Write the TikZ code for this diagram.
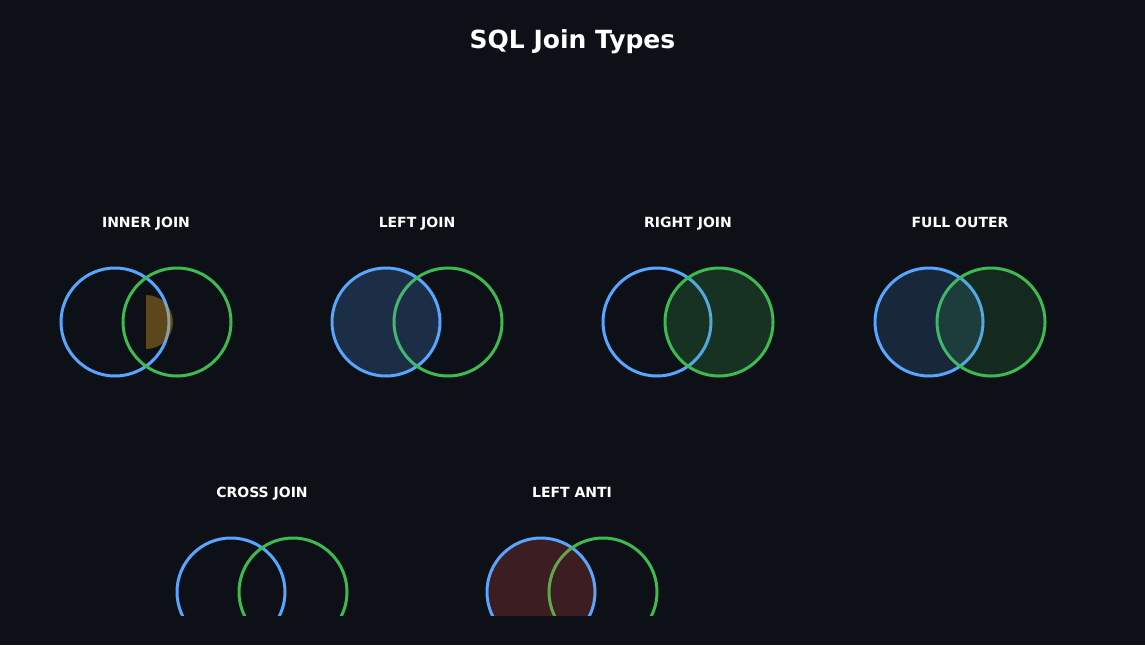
\documentclass[tikz,border=0pt]{standalone}
\usepackage{fontspec}
\setmainfont{DejaVu Sans}
\usepackage{tikz}
\usetikzlibrary{positioning}

\definecolor{bgdark}{HTML}{0D1117}
\definecolor{tblA}{HTML}{58A6FF}
\definecolor{tblB}{HTML}{3FB950}
\definecolor{hitOrange}{HTML}{D29922}
\definecolor{antiRed}{HTML}{F85149}

\begin{document}
\begin{tikzpicture}[x=1pt, y=-1pt,
		setA/.style={draw=tblA, line width=3pt, circle, minimum size=108pt, inner sep=0pt},
		setB/.style={draw=tblB, line width=3pt, circle, minimum size=108pt, inner sep=0pt},
		joinname/.style={text=white, anchor=base, font=\fontsize{14}{16}\selectfont\bfseries},
		heading/.style={text=white, anchor=base, font=\fontsize{25}{30}\selectfont\bfseries}]
				\fill[bgdark] (0,0) rectangle (1145,645);
				\useasboundingbox (0,0) rectangle (1145,645);
				
				\node[heading] (title) at (572.5,48.5) {SQL Join Types};
				
				% top row
				\node[joinname] (innerlbl) at (146,227.5) {INNER JOIN};
				\node[setA] (innerA) at (115,322) {};
				\node[setB] (innerB) at (177,322) {};
				\begin{scope}
					\clip (146,290) rectangle (180,355);
					\fill[hitOrange, opacity=.4] (146,322) circle[radius=27];
				\end{scope}
				
				\node[joinname] (leftlbl) at (417,227.5) {LEFT JOIN};
				\node[setA] (leftA) at (386,322) {};
				\node[setB] (leftB) at (448,322) {};
				\fill[tblA, opacity=.2] (leftA.center) circle[radius=52.5];
				
				\node[joinname] (rightlbl) at (688,227.5) {RIGHT JOIN};
				\node[setA] (rightA) at (657,322) {};
				\node[setB] (rightB) at (719,322) {};
				\fill[tblB, opacity=.2] (rightB.center) circle[radius=52.5];
				
				\node[joinname] (fulllbl) at (960,227.5) {FULL OUTER};
				\node[setA] (fullA) at (929,322) {};
				\node[setB] (fullB) at (991,322) {};
				\fill[tblA, opacity=.15] (fullA.center) circle[radius=52.5];
				\fill[tblB, opacity=.15] (fullB.center) circle[radius=52.5];
				
				% bottom row, cut off at the lower edge
				\node[joinname] (crosslbl) at (262,497.5) {CROSS JOIN};
				\node[joinname] (antilbl) at (572,497.5) {LEFT ANTI};
				\begin{scope}
					\clip (0,0) rectangle (1145,615);
					\node[setA] (crossA) at (231,592) {};
					\node[setB] (crossB) at (293,592) {};
					
					\node[setA] (antiA) at (541,592) {};
					\node[setB] (antiB) at (603,592) {};
					\fill[antiRed, opacity=.2] (antiA.center) circle[radius=52.5];
				\end{scope}
			\end{tikzpicture}
\end{document}
